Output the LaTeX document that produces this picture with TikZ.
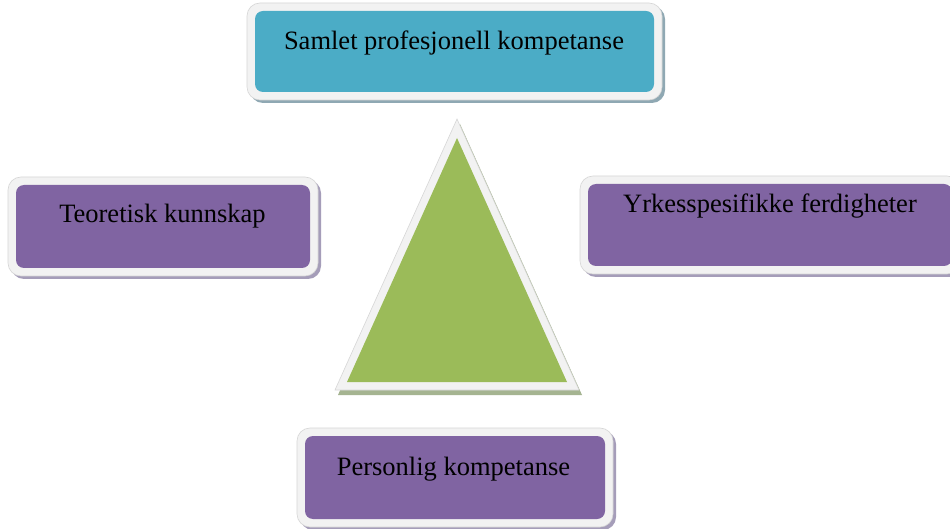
\documentclass[tikz,border=0pt]{standalone}
\usepackage{fontspec}
\setmainfont{Liberation Serif}
\usetikzlibrary{shadows,calc}
\definecolor{aqua}{HTML}{4BACC6}
\definecolor{violet}{HTML}{8064A2}
\definecolor{olive}{HTML}{9BBB59}
\definecolor{framec}{HTML}{F2F2F2}
\definecolor{frameedge}{HTML}{D6D6D6}
\definecolor{shblue}{HTML}{8FA8B3}
\definecolor{shviolet}{HTML}{A59DB9}
\definecolor{sholive}{HTML}{A5B491}
\tikzset{
  frame/.style={rectangle, rounded corners=13pt, fill=framec, draw=frameedge, line width=0.6pt, inner sep=0pt,
    drop shadow={shadow xshift=3pt, shadow yshift=-3pt, fill=#1, opacity=1}},
  inner/.style={rectangle, rounded corners=8pt, fill=#1, draw=none, inner sep=0pt},
  label/.style={anchor=base, font=\fontsize{26.5}{30}\selectfont, text=black, inner sep=0pt}
}
\begin{document}
\begin{tikzpicture}[x=1pt,y=-1pt]
\useasboundingbox (0,0) rectangle (950,529);
\clip (0,0) rectangle (950,529);
\fill[white] (0,0) rectangle (950,529);
% top box
\node[frame=shblue, minimum width=415pt, minimum height=97pt] (topframe) at (454.5,51.5) {};
\node[inner=aqua, minimum width=399pt, minimum height=81pt] (topbox) at (454.5,51.5) {};
\node[label] (toptext) at (454,50) {Samlet profesjonell kompetanse};
% left box
\node[frame=shviolet, minimum width=310pt, minimum height=99pt] (leftframe) at (163,226.5) {};
\node[inner=violet, minimum width=294pt, minimum height=83pt] (leftbox) at (163,226.5) {};
\node[label] (lefttext) at (162.5,223) {Teoretisk kunnskap};
% right box
\node[frame=shviolet, minimum width=380pt, minimum height=98pt] (rightframe) at (770,225) {};
\node[inner=violet, minimum width=364pt, minimum height=82pt] (rightbox) at (770,225) {};
\node[label] (righttext) at (770,213) {Yrkesspesifikke ferdigheter};
% bottom box
\node[frame=shviolet, minimum width=316pt, minimum height=99pt] (botframe) at (455,477.5) {};
\node[inner=violet, minimum width=300pt, minimum height=83pt] (botbox) at (455,477.5) {};
\node[label] (bottext) at (453.5,475) {Personlig kompetanse};
% triangle
\coordinate (oa) at (457,119);
\coordinate (ol) at (335,390);
\coordinate (or) at (579,390);
\coordinate (ia) at (457,138);
\coordinate (il) at (347,382);
\coordinate (ir) at (567,382);
\fill[sholive] ($(ol)+(3,5)$) -- ($(or)+(3,5)$) -- ($(oa)+(3,5)$) -- cycle;
\filldraw[fill=framec, draw=frameedge, line width=0.6pt] (oa) -- (ol) -- (or) -- cycle;
\fill[olive] (ia) -- (il) -- (ir) -- cycle;
\end{tikzpicture}
\end{document}
